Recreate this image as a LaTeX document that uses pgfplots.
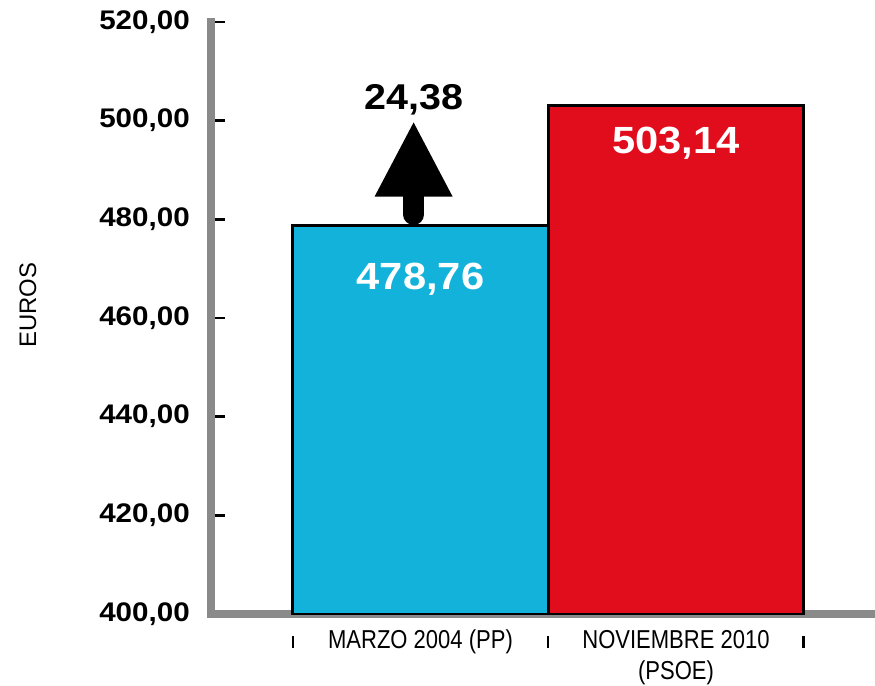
\documentclass[border=0pt]{standalone}
\usepackage{fontspec}
\setmainfont{Liberation Sans}
\newfontfamily\narrow[FakeStretch=0.85]{Liberation Sans}
\newfontfamily\wide[FakeStretch=1.1]{Liberation Sans}
\usepackage{pgfplots}
\pgfplotsset{compat=1.18}
\usetikzlibrary{arrows.meta}
\definecolor{barcyan}{RGB}{18,178,219}
\definecolor{barred}{RGB}{226,13,28}
\definecolor{axgray}{RGB}{138,138,138}
\begin{document}
\begin{tikzpicture}
\path[use as bounding box] (-211bp,-72bp) rectangle (664bp,614bp);
\begin{axis}[
  scale only axis,
  width=664bp, height=592bp,
  xmin=-0.82, xmax=1.779,
  ymin=400, ymax=520,
  clip mode=individual,
  axis x line=bottom, axis y line=left,
  axis line style={-, draw=axgray, line width=8bp, line cap=rect},
  tick align=center,
  ytick={400,420,...,520},
  xtick={0,1},
  xticklabels={MARZO 2004 (PP),{NOVIEMBRE 2010\\(PSOE)}},
  minor xtick={-0.5,0.5,1.5},
  minor ytick={},
  major tick length=14bp,
  minor tick length=12bp,
  every major x tick/.append style={draw=none},
  every minor x tick/.append style={black, line width=2.5bp, yshift=-22bp},
  every major y tick/.append style={black, line width=2.5bp, xshift=7bp},
  /pgf/number format/.cd, use comma, fixed, fixed zerofill, precision=2, assume math mode=true,
  /pgfplots/.cd,
  yticklabel style={anchor=east, inner sep=0pt, xshift=-14bp, font=\wide\bfseries\fontsize{27}{30}\selectfont},
  xticklabel style={anchor=north, inner sep=0pt, align=center, yshift=-2bp, font=\narrow\fontsize{26}{31}\selectfont},
  ylabel={EUROS},
  ylabel style={at={(axis description cs:-0.2756,0.522)}, anchor=center, rotate=0, font=\fontsize{24}{26}\selectfont},
  ybar, bar width=1, bar shift=0pt,
]
\addplot[fill=barcyan, draw=black, line width=3bp,
  nodes near coords,
  every node near coord/.append style={anchor=center, yshift=-54bp, text=white, inner sep=0pt, font=\wide\bfseries\fontsize{38}{38}\selectfont}]
  coordinates {(0,478.76)};
\addplot[fill=barred, draw=black, line width=3bp,
  nodes near coords,
  every node near coord/.append style={anchor=center, yshift=-38bp, text=white, inner sep=0pt, font=\wide\bfseries\fontsize{38}{38}\selectfont}]
  coordinates {(1,503.14)};
\draw[line width=21bp, line cap=round, -{Triangle[width=72bp,length=76bp]}]
  ([yshift=11bp]axis cs:-0.027,478.76) -- (axis cs:-0.027,500.0);
\node[font=\wide\bfseries\fontsize{36}{36}\selectfont, inner sep=0pt] at (axis cs:-0.027,504.3) {24,38};
\end{axis}
\end{tikzpicture}
\end{document}
